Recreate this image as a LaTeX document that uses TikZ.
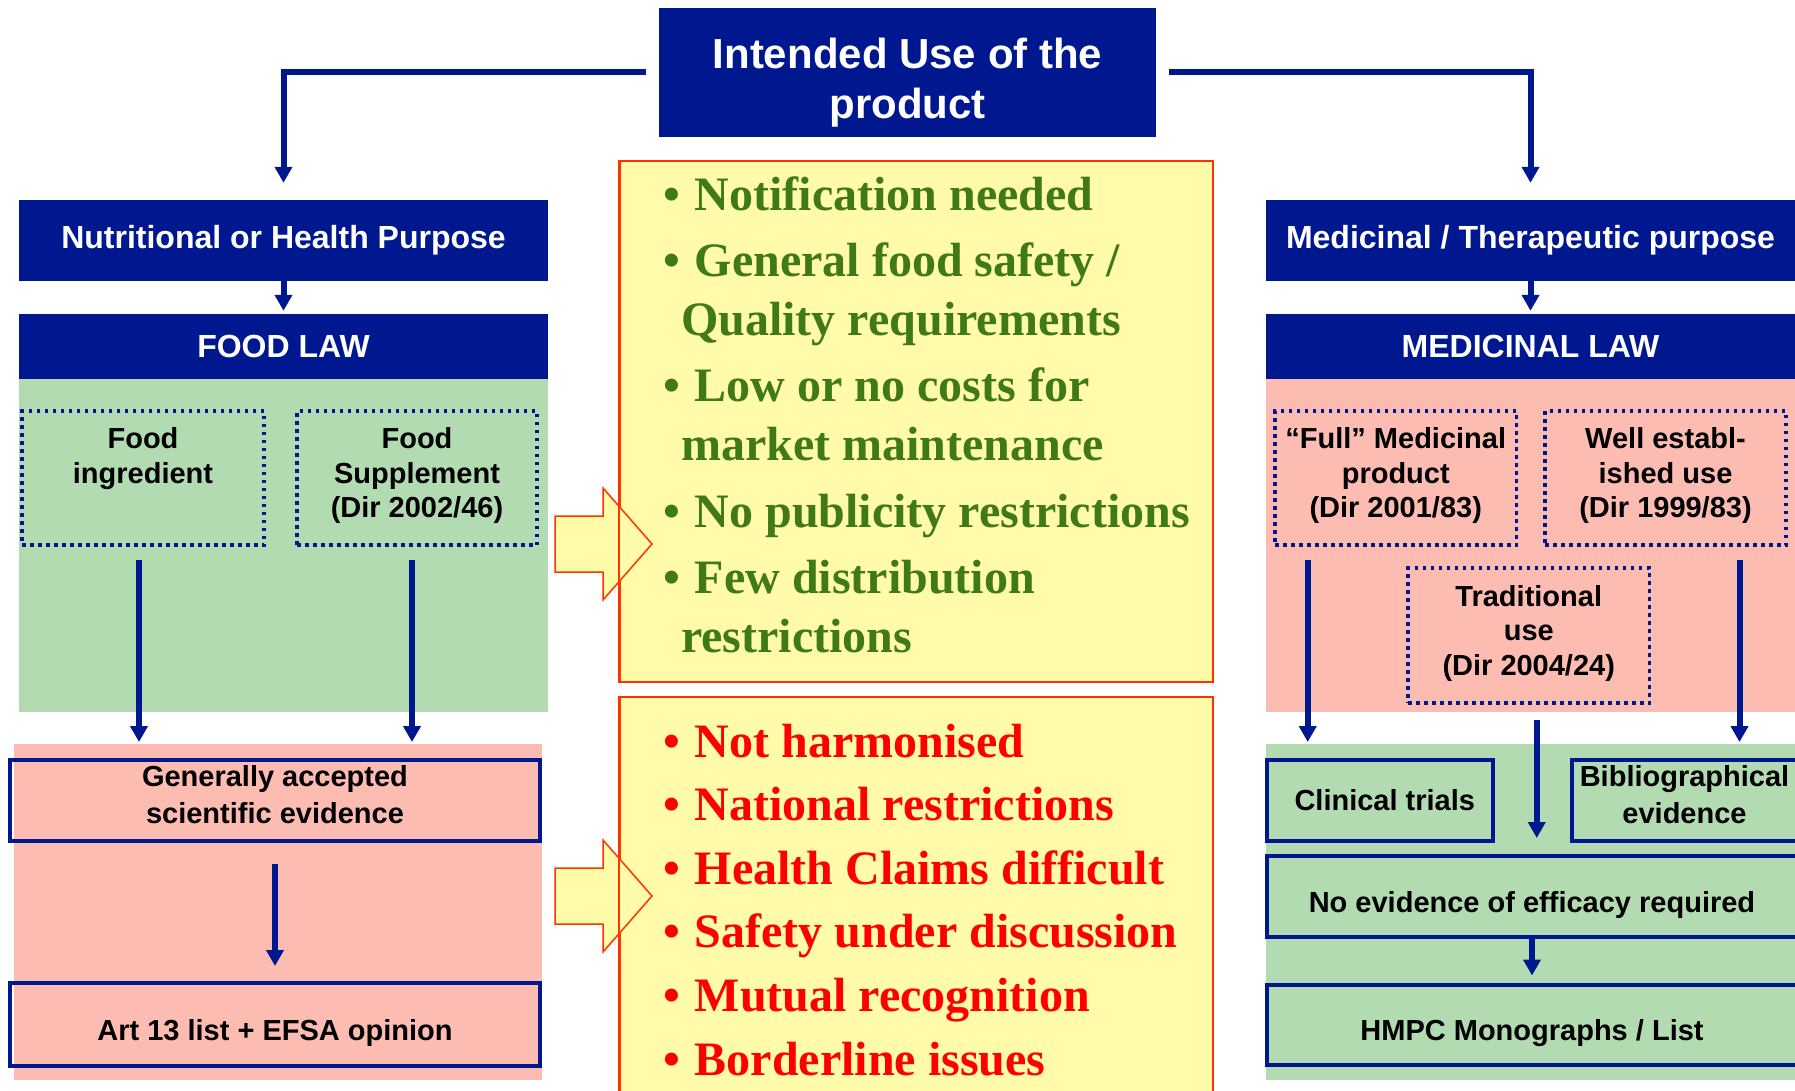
\documentclass[tikz,border=0pt]{standalone}
\usepackage{fontspec}
\setmainfont{Liberation Sans}
\newfontfamily\timesfont{Liberation Serif}
\usetikzlibrary{arrows.meta,calc}

\definecolor{lawblue}{RGB}{0,24,143}
\definecolor{foodgreen}{RGB}{178,219,178}
\definecolor{medpink}{RGB}{252,188,178}
\definecolor{noteyellow}{RGB}{255,251,168}
\definecolor{noteline}{RGB}{255,51,0}
\definecolor{okgreen}{RGB}{64,122,24}

\newcommand\bulletmark{\makebox[31.6pt][l]{•}}
\newcommand\lastdepth{\rule[-10.6pt]{0pt}{0pt}}

\begin{document}
\begin{tikzpicture}[x=1pt,y=-1pt,
    head/.style={fill=lawblue, text=white, inner sep=0pt, align=center,
        font=\fontsize{32}{38}\selectfont\bfseries},
    choice/.style={draw=lawblue, line width=3.5pt, dash pattern=on 3.5pt off 4.5pt,
        inner sep=0pt, align=center, minimum height=134pt,
        font=\fontsize{29}{34.5}\selectfont\bfseries},
    result/.style={draw=lawblue, line width=4pt, inner sep=0pt, align=center,
        font=\fontsize{29}{34.5}\selectfont\bfseries},
    note/.style={fill=noteyellow, draw=noteline, line width=2pt, inner sep=0pt},
    bigarrow/.style={fill=noteyellow, draw=noteline, line width=1.5pt},
    flow/.style={draw=lawblue, line width=6pt, -{Triangle[width=17pt,length=16pt]}}]
    \useasboundingbox (0,0) rectangle (1795,1091);
    \clip (0,0) rectangle (1795,1091);

    % coloured areas
    \fill[foodgreen] (19,379) rectangle (548,712);
    \fill[medpink] (14,744) rectangle (542,1080);
    \fill[medpink] (1266,379) rectangle (1795,712);
    \fill[foodgreen] (1266,744) rectangle (1795,1080);

    \node[head, minimum width=497pt, minimum height=129pt,
        font=\fontsize{42}{50}\selectfont\bfseries] (intended) at (907.5,72.5)
        {\rule{0pt}{51pt}Intended Use of the\\product};

    % food side
    \node[head, minimum width=529pt, minimum height=81pt] (nutri) at (283.5,240.5) {Nutritional or Health Purpose};
    \node[head, minimum width=529pt, minimum height=65pt] (foodlaw) at (283.5,346.5) {FOOD LAW};
    \node[choice, minimum width=242pt] (ingredient) at (143,478) {Food\\ingredient\\\lastdepth};
    \node[choice, minimum width=240pt] (supplement) at (417,478) {Food\\Supplement\\(Dir 2002/46)\lastdepth};
    \node[result, minimum width=530pt, minimum height=81pt] (general) at (275,800.5)
        {Generally accepted\\[2.5pt]scientific evidence\rule[-13pt]{0pt}{13pt}};
    \node[result, minimum width=530pt, minimum height=83pt] (art13) at (275,1024.5)
        {\rule{0pt}{37pt}Art 13 list + EFSA opinion};

    % medicinal side
    \node[head, minimum width=529pt, minimum height=81pt] (medpur) at (1530.5,240.5) {Medicinal / Therapeutic purpose};
    \node[head, minimum width=529pt, minimum height=65pt] (medlaw) at (1530.5,346.5) {MEDICINAL LAW};
    \node[choice, minimum width=241.5pt] (full) at (1395.75,478) {“Full” Medicinal\\product\\(Dir 2001/83)\lastdepth};
    \node[choice, minimum width=241pt] (well) at (1665.5,478) {Well establ-\\ished use\\(Dir 1999/83)\lastdepth};
    \node[choice, minimum width=241.5pt, minimum height=135pt] (trad) at (1528.75,635.5) {Traditional\\use\\(Dir 2004/24)\lastdepth};
    \node[result, minimum width=225.5pt, minimum height=81pt] (clinical) at (1379.75,800.5) {\hspace*{10pt}Clinical trials};
    \node[result, minimum width=225pt, minimum height=81pt] (biblio) at (1684.5,800.5)
        {Bibliographical\\[2.5pt]evidence\rule[-13pt]{0pt}{13pt}};
    \node[result, minimum width=530pt, minimum height=81pt] (noevid) at (1532,896.5)
        {\rule{0pt}{37pt}No evidence of efficacy required};
    \node[result, minimum width=530pt, minimum height=80.5pt] (hmpc) at (1532,1024.75)
        {\rule{0pt}{37pt}HMPC Monographs / List};

    % notes in the middle
    \node[note, anchor=north west, minimum width=593pt, minimum height=520.5pt] (prosbox) at (619,160) {};
    \node[note, anchor=north west, minimum width=593pt, minimum height=430pt] (consbox) at (619,696) {};
    \foreach \ya in {544,896}
        \filldraw[bigarrow] (555,{\ya-28}) -- (603,{\ya-28}) -- (603,{\ya-56}) -- (652,\ya)
            -- (603,{\ya+56}) -- (603,{\ya+28}) -- (555,{\ya+28}) -- cycle;
    \draw[noteline, line width=2pt] (prosbox.north west) -- (prosbox.south west);
    \draw[noteline, line width=2pt] (consbox.north west) -- (consbox.south west);

    \node[anchor=base west, inner sep=0pt, text=okgreen] (pros) at (663,210.5)
        {\begin{minipage}[t]{540pt}\fontsize{48}{58.5}\selectfont\timesfont\bfseries
        \bulletmark Notification needed\\[8pt]
        \bulletmark General food safety /\\
        \hspace*{18pt}Quality requirements\\[8pt]
        \bulletmark Low or no costs for\\
        \hspace*{18pt}market maintenance\\[8pt]
        \bulletmark No publicity restrictions\\[8pt]
        \bulletmark Few distribution\\
        \hspace*{18pt}restrictions
        \end{minipage}};
    \node[anchor=base west, inner sep=0pt, text=red] (cons) at (663,757)
        {\begin{minipage}[t]{540pt}\fontsize{48}{63.6}\selectfont\timesfont\bfseries
        \bulletmark Not harmonised\\
        \bulletmark National restrictions\\
        \bulletmark Health Claims difficult\\
        \bulletmark Safety under discussion\\
        \bulletmark Mutual recognition\\
        \bulletmark Borderline issues
        \end{minipage}};

    % connectors
    \coordinate (ingout) at ($(ingredient.south)+(-4,0)$);
    \coordinate (supout) at ($(supplement.south)+(-5,0)$);
    \coordinate (fullout) at ($(full.south)+(-88,0)$);
    \coordinate (wellout) at ($(well.south)+(74,0)$);
    \coordinate (tradout) at ($(trad.south)+(8,0)$);
    \draw[flow, shorten <=13pt, shorten >=17pt] (intended.west) -| (nutri.north);
    \draw[flow, shorten <=13pt, shorten >=17pt] (intended.east) -| (medpur.north);
    \draw[flow, shorten >=3pt] (nutri) -- (foodlaw);
    \draw[flow, shorten >=3pt] (medpur) -- (medlaw);
    \draw[flow, shorten <=13pt, shorten >=16pt] (ingout) -- (ingout |- general.north);
    \draw[flow, shorten <=13pt, shorten >=16pt] (supout) -- (supout |- general.north);
    \draw[flow, shorten <=21pt, shorten >=15pt] (general) -- (art13);
    \draw[flow, shorten <=13pt, shorten >=16pt] (fullout) -- (fullout |- clinical.north);
    \draw[flow, shorten <=13pt, shorten >=16pt] (wellout) -- (wellout |- biblio.north);
    \draw[flow, shorten <=15.5pt, shorten >=16pt] (tradout) -- (tradout |- noevid.north);
    \draw[flow, shorten >=7pt] (noevid) -- (hmpc);
\end{tikzpicture}
\end{document}
